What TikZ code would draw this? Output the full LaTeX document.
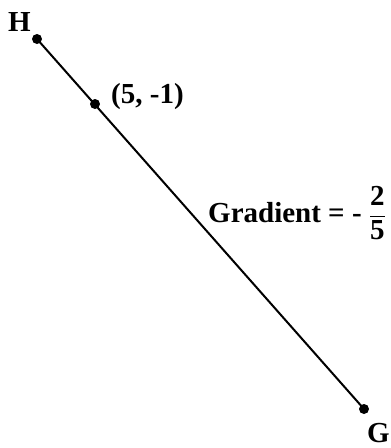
\documentclass[tikz,border=0pt]{standalone}
\usepackage{fontspec}
\setmainfont{Liberation Serif}
\usetikzlibrary{positioning}
\begin{document}
\begin{tikzpicture}[x=1pt, y=-1pt,
          dot/.style={circle, fill=black, inner sep=0pt, minimum size=10pt},
          lbl/.style={font=\fontsize{29}{34}\selectfont\bfseries, inner sep=0pt}
        ]
        \useasboundingbox (0,0) rectangle (391,448);

        \node[dot] (H) at (37,39)   {};
        \node[dot] (P) at (95,104)  {};
        \node[dot] (G) at (364,409) {};

        \draw[line width=2pt] (H.center) -- (G.center);

        \node[lbl, anchor=base] (Hlab) at (19.5,31)  {H};
        \node[lbl, anchor=base west] (Plab) at (111,103) {(5, -1)};
        \node[lbl, anchor=base east] (Glab) at (390,442) {G};
        \node[lbl, anchor=base west] (grad) at (208,222)
              {Gradient = - $\displaystyle\frac{\textbf{2}}{\textbf{5}}$};
      \end{tikzpicture}
\end{document}
